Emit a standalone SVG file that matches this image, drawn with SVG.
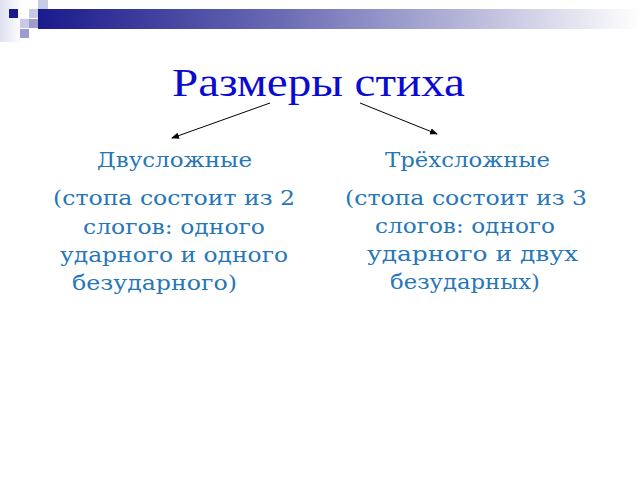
<svg xmlns="http://www.w3.org/2000/svg" width="640" height="480" viewBox="0 0 640 480">
<defs>
<linearGradient id="bar" x1="0" y1="0" x2="1" y2="0">
<stop offset="0" stop-color="#1a1a8c"/>
<stop offset="0.4" stop-color="#6a6ab4"/>
<stop offset="0.7" stop-color="#b4b4d8"/>
<stop offset="1" stop-color="#ffffff"/>
</linearGradient>
<linearGradient id="fade" x1="0" y1="0" x2="1" y2="0">
<stop offset="0" stop-color="#dfe0f0"/>
<stop offset="1" stop-color="#ffffff"/>
</linearGradient>
<marker id="ah" markerWidth="8" markerHeight="8" refX="7" refY="4" orient="auto" markerUnits="userSpaceOnUse">
<path d="M0,0.8 L8,4 L0,7.2 Z" fill="#000"/>
</marker>
<style>
.t{font-family:"Liberation Serif","Times New Roman",serif;font-size:39px;fill:#0a0ad2;text-anchor:middle}
.b{font-family:"DejaVu Serif",serif;font-size:21px;fill:#2676b8;text-anchor:middle}
.c{stroke:#000;stroke-width:1;fill:none;marker-end:url(#ah)}
.l{fill:#c8c9e4}
.m{fill:#9c9dcc}
</style>
</defs>
<rect width="640" height="480" fill="#fff"/>
<g id="decor">
<rect x="0" y="0" width="22" height="42" fill="url(#fade)"/>
<rect x="38" y="9" width="602" height="20" fill="url(#bar)"/>
<rect x="9" y="9" width="9" height="9" fill="#1a1a8c"/>
<rect x="29" y="9" width="9" height="9" class="l"/>
<rect x="38" y="0" width="10" height="9" class="l"/>
<rect x="20" y="19" width="9" height="9" class="l"/>
<rect x="29" y="19" width="9" height="9" class="m"/>
<rect x="20" y="29" width="9" height="9" class="m"/>
</g>
<g id="title">
<text class="t" x="318.5" y="96" textLength="293" lengthAdjust="spacingAndGlyphs">Размеры стиха</text>
</g>
<g id="connectors">
<line class="c" x1="270" y1="103" x2="172" y2="138"/>
<line class="c" x1="360" y1="103" x2="437" y2="134"/>
</g>
<g id="left">
<text class="b" x="174.5" y="167" textLength="155" lengthAdjust="spacingAndGlyphs">Двусложные</text>
<text class="b" x="174" y="205" textLength="242" lengthAdjust="spacingAndGlyphs">(стопа состоит из 2</text>
<text class="b" x="174" y="234" textLength="182" lengthAdjust="spacingAndGlyphs">слогов: одного</text>
<text class="b" x="174" y="262" textLength="228" lengthAdjust="spacingAndGlyphs">ударного и одного</text>
<text class="b" x="154.5" y="290" textLength="165" lengthAdjust="spacingAndGlyphs">безударного)</text>
</g>
<g id="right">
<text class="b" x="467.5" y="167" textLength="165" lengthAdjust="spacingAndGlyphs">Трёхсложные</text>
<text class="b" x="466" y="205" textLength="242" lengthAdjust="spacingAndGlyphs">(стопа состоит из 3</text>
<text class="b" x="465" y="233" textLength="180" lengthAdjust="spacingAndGlyphs">слогов: одного</text>
<text class="b" x="472.5" y="261" textLength="211" lengthAdjust="spacingAndGlyphs">ударного и двух</text>
<text class="b" x="465" y="289" textLength="150" lengthAdjust="spacingAndGlyphs">безударных)</text>
</g>
</svg>
